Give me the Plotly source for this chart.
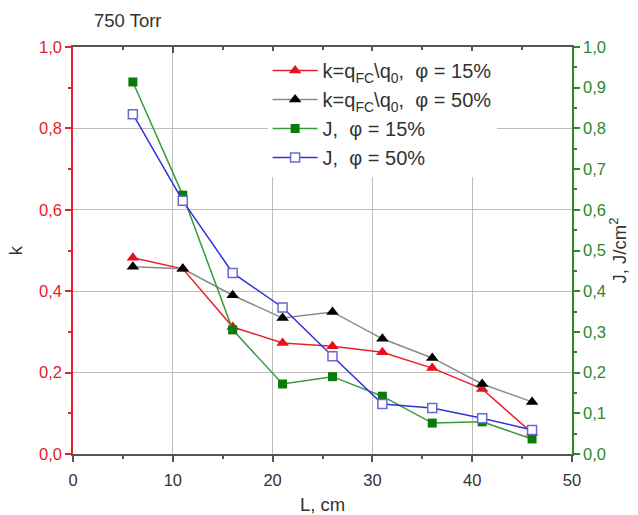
import plotly.graph_objects as go

# Distance from the source, cm
L_cm = [6, 11, 16, 21, 26, 31, 36, 41, 46]

# Attenuation coefficient k = q_FC / q_0
k_phi15 = [0.482, 0.455, 0.312, 0.273, 0.265, 0.250, 0.211, 0.160, 0.052]
k_phi50 = [0.460, 0.455, 0.390, 0.334, 0.349, 0.283, 0.236, 0.172, 0.128]

# Energy density J, J/cm^2
J_phi15 = [0.914, 0.636, 0.305, 0.172, 0.190, 0.142, 0.076, 0.079, 0.037]
J_phi50 = [0.835, 0.622, 0.445, 0.360, 0.240, 0.123, 0.113, 0.088, 0.059]

names = [
    "k=q<sub>FC</sub>\\q<sub>0</sub>,  φ = 15%",
    "k=q<sub>FC</sub>\\q<sub>0</sub>,  φ = 50%",
    "J,  φ = 15%",
    "J,  φ = 50%",
]

FONT = "Arial, Liberation Sans, sans-serif"
RED = "#e8202a"
GREEN = "#2a8a2a"
AXIS_DARK = "#555555"
GRID = "#bdbdbd"

fig = go.Figure()

fig.add_trace(go.Scatter(
    x=L_cm, y=k_phi15, name=names[0], mode="lines+markers",
    line=dict(color="#e8202a", width=1.5),
    marker=dict(symbol="triangle-up", size=11, color="#e8101a"),
))
fig.add_trace(go.Scatter(
    x=L_cm, y=k_phi50, name=names[1], mode="lines+markers",
    line=dict(color="#8a8a8a", width=1.5),
    marker=dict(symbol="triangle-up", size=11, color="#000000"),
))
fig.add_trace(go.Scatter(
    x=L_cm, y=J_phi15, name=names[2], mode="lines+markers", yaxis="y2",
    line=dict(color="#3a9a3a", width=1.5),
    marker=dict(symbol="square", size=9, color="#0a7a0a"),
))
fig.add_trace(go.Scatter(
    x=L_cm, y=J_phi50, name=names[3], mode="lines+markers", yaxis="y2",
    line=dict(color="#3030e0", width=1.5),
    marker=dict(symbol="square", size=9, color="white",
                line=dict(color="#6a6ad0", width=1.5)),
))

fig.update_layout(
    width=638, height=515,
    margin=dict(l=73, r=66, t=47, b=61),
    paper_bgcolor="white", plot_bgcolor="white",
    separators=", ",
    font=dict(family=FONT, size=16, color="#333333"),
    showlegend=True,
    legend=dict(
        x=0.39, y=0.99, xanchor="left", yanchor="top",
        bgcolor="white", borderwidth=0,
        font=dict(family=FONT, size=20, color="#333333"),
        tracegroupgap=0, itemwidth=45,
    ),
    xaxis=dict(
        range=[0, 50], dtick=10, tick0=0, automargin=False,
        showgrid=True, gridcolor=GRID, gridwidth=1, zeroline=False,
        showline=True, linecolor=AXIS_DARK, linewidth=1.5,
        ticks="outside", ticklen=6, tickcolor=AXIS_DARK, tickwidth=1.5,
        minor=dict(dtick=5, ticks="outside", ticklen=3, tickcolor=AXIS_DARK, showgrid=False),
        tickfont=dict(size=16.5, color="#333333"),
        ticklabelstandoff=4,
        title=dict(text="L, cm", font=dict(size=18.5, color="#333333"), standoff=12),
    ),
    xaxis2=dict(
        range=[0, 50], dtick=10, tick0=0, overlaying="x", side="top", automargin=False,
        showgrid=False, zeroline=False, showticklabels=False,
        showline=True, linecolor=AXIS_DARK, linewidth=1.5,
        ticks="inside", ticklen=6, tickcolor=AXIS_DARK, tickwidth=1.5,
        minor=dict(dtick=5, ticks="inside", ticklen=3, tickcolor=AXIS_DARK, showgrid=False),
    ),
    yaxis=dict(
        range=[0, 1.0], dtick=0.2, tick0=0, tickformat=".1f", automargin=False,
        showgrid=True, gridcolor=GRID, gridwidth=1, zeroline=False,
        showline=True, linecolor=RED, linewidth=1.5,
        ticks="outside", ticklen=6, tickcolor=RED, tickwidth=1.5,
        minor=dict(dtick=0.1, ticks="outside", ticklen=3, tickcolor=RED, showgrid=False),
        tickfont=dict(size=16.5, color=RED),
        title=dict(text="k", font=dict(size=18.5, color="#333333"), standoff=12),
    ),
    yaxis2=dict(
        range=[0, 1.0], dtick=0.1, tick0=0, tickformat=".1f", automargin=False,
        overlaying="y", side="right", anchor="x",
        showgrid=False, zeroline=False,
        showline=True, linecolor=GREEN, linewidth=1.5,
        ticks="outside", ticklen=6, tickcolor=GREEN, tickwidth=1.5,
        minor=dict(dtick=0.05, ticks="outside", ticklen=3, tickcolor=GREEN, showgrid=False),
        tickfont=dict(size=16.5, color=GREEN),
        title=dict(text="J, J/cm<sup>2</sup>", font=dict(size=18.5, color="#333333"), standoff=8),
    ),
    annotations=[dict(
        text="750 Torr", xref="paper", yref="paper", x=0.038, y=1.035,
        xanchor="left", yanchor="bottom", showarrow=False,
        font=dict(family=FONT, size=18.5, color="#333333"),
    )],
)

fig.add_trace(go.Scatter(x=[None], y=[None], xaxis="x2", showlegend=False, hoverinfo="skip"))

fig.write_html("out.html")
